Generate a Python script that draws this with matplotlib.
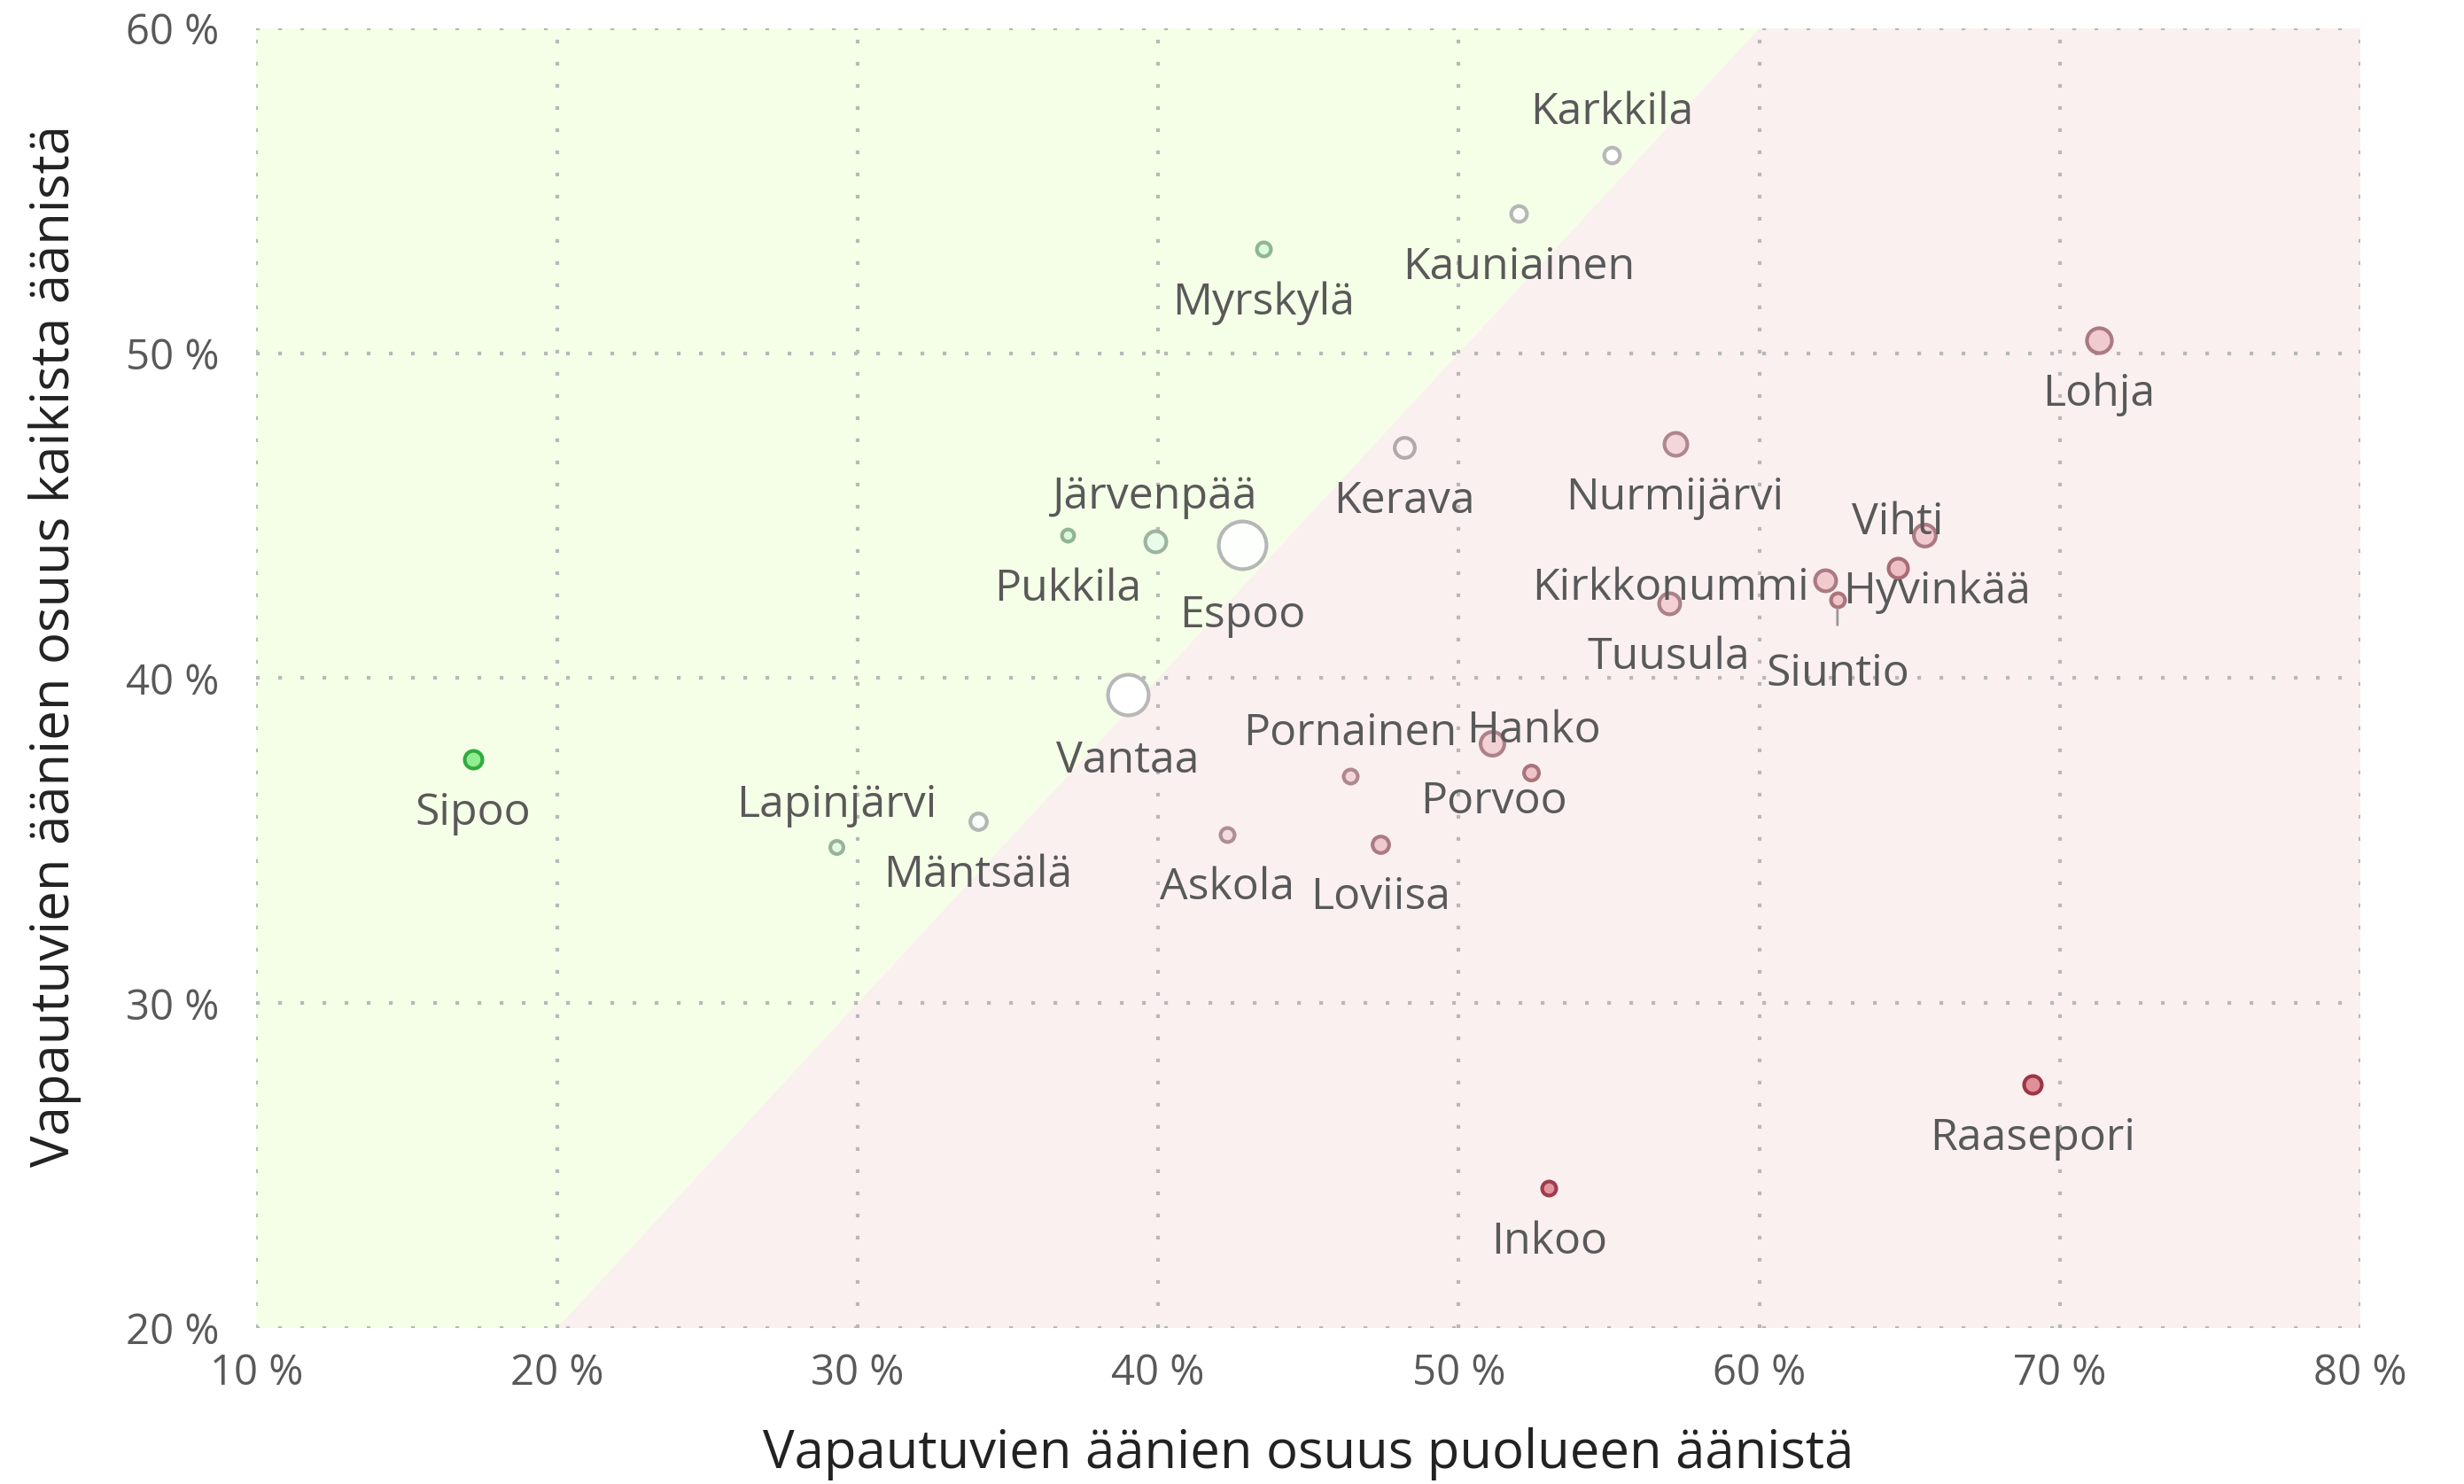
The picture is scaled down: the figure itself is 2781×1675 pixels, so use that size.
import numpy as np
import matplotlib.pyplot as plt
from matplotlib.colors import to_rgb

plt.rcParams['font.family'] = ['Open Sans', 'DejaVu Sans']

kunnat = ['Karkkila', 'Kauniainen', 'Myrskylä', 'Lohja', 'Kerava', 'Nurmijärvi',
          'Järvenpää', 'Pukkila', 'Espoo', 'Vihti', 'Hyvinkää', 'Kirkkonummi',
          'Siuntio', 'Tuusula', 'Vantaa', 'Hanko', 'Pornainen', 'Porvoo', 'Sipoo',
          'Mäntsälä', 'Lapinjärvi', 'Askola', 'Loviisa', 'Raasepori', 'Inkoo']
# vapautuvien äänien osuus puolueen äänistä (%)
osuus_puolue = [55.1, 52.0, 43.5, 71.3, 48.2, 57.2,
                39.9, 37.0, 42.8, 65.5, 64.6, 62.2,
                62.6, 57.0, 39.0, 51.1, 46.4, 52.4, 17.2,
                34.0, 29.3, 42.3, 47.4, 69.1, 53.0]
# vapautuvien äänien osuus kaikista äänistä (%)
osuus_kaikki = [56.1, 54.3, 53.2, 50.4, 47.1, 47.2,
                44.2, 44.4, 44.1, 44.4, 43.4, 43.0,
                42.4, 42.3, 39.5, 38.0, 37.0, 37.1, 37.5,
                35.6, 34.8, 35.2, 34.9, 27.5, 24.3]
# suhteellinen äänimäärä (pallon pinta-ala)
paino = [1.2, 1.2, 1.0, 2.6, 1.8, 2.25,
         1.95, 0.8, 8.4, 2.1, 1.7, 1.95,
         1.0, 1.95, 6.25, 2.4, 1.0, 1.1, 1.45,
         1.3, 0.9, 1.0, 1.3, 1.45, 1.0]
# väriarvo: + vihreä, - punainen
vari = [0.0, 0.03, 0.3, -0.45, -0.12, -0.35,
        0.2, 0.3, 0.02, -0.45, -0.55, -0.45,
        -0.5, -0.4, 0.0, -0.4, -0.35, -0.5, 1.0,
        0.05, 0.25, -0.3, -0.45, -0.95, -0.9]

# label offsets (points)
siirto = {
    'Karkkila': (0, 17), 'Järvenpää': (0, 18), 'Pornainen': (0, 17),
    'Lapinjärvi': (0, 17), 'Espoo': (0, -29), 'Vantaa': (0, -27),
    'Vihti': (-11, 5), 'Hyvinkää': (16, -10), 'Kirkkonummi': (-63, -3),
    'Siuntio': (0, -30), 'Hanko': (17, 5), 'Porvoo': (-15, -12),
}
oletus = (0, -22)


def sekoita(c1, c2, t):
    a = np.array(to_rgb(c1))
    b = np.array(to_rgb(c2))
    return tuple(a + (b - a) * t)


def varit(v):
    if v >= 0:
        return sekoita('#ffffff', '#90ee90', v), sekoita('#b8b8b8', '#33aa3f', v)
    v = -v
    return sekoita('#ffffff', '#de8a94', v), sekoita('#b8b8b8', '#9b2f40', v)


fig = plt.figure(figsize=(13.905, 8.375), dpi=200)
ax = fig.add_axes([0.104, 0.105, 0.854, 0.876])

xs = np.array([10, 80])
ax.fill_between(xs, xs, 60, color='#f5ffe7', zorder=0, lw=0)
ax.fill_between(xs, 20, xs, color='#fbf0f0', zorder=0, lw=0)

lw = 1.5
for i in np.argsort(paino)[::-1]:
    d_px = 20 * np.sqrt(paino[i])
    d_pt = d_px / 2.778 - lw
    fc, ec = varit(vari[i])
    ax.scatter(osuus_puolue[i], osuus_kaikki[i], s=d_pt ** 2, facecolor=fc,
               edgecolor=ec, linewidth=lw, zorder=3)

for i, nimi in enumerate(kunnat):
    dx, dy = siirto.get(nimi, oletus)
    kw = {}
    if nimi == 'Siuntio':
        kw['arrowprops'] = dict(arrowstyle='-', color='#999999', lw=1.0,
                                shrinkA=9, shrinkB=4)
    ax.annotate(nimi, (osuus_puolue[i], osuus_kaikki[i]), xytext=(dx, dy),
                textcoords='offset points', ha='center', va='center',
                fontsize=18, color='#595959', zorder=4, **kw)

ax.set_xlim(10, 80)
ax.set_ylim(20, 60)
ax.set_xticks(np.arange(10, 81, 10))
ax.set_yticks(np.arange(20, 61, 10))
ax.set_xticklabels([f'{t} %' for t in range(10, 81, 10)])
ax.set_yticklabels([f'{t} %' for t in range(20, 61, 10)])
ax.tick_params(length=0, labelsize=17, labelcolor='#595959')
ax.tick_params(axis='x', pad=10)
ax.tick_params(axis='y', pad=15)
ax.grid(True, color='#b8b8b8', linestyle=(0, (1, 5)), linewidth=1.5, zorder=1)
ax.set_axisbelow(True)
for s in ax.spines.values():
    s.set_visible(False)

ax.set_xlabel('Vapautuvien äänien osuus puolueen äänistä', fontsize=21.5,
              color='#222222', labelpad=13)
ax.set_ylabel('Vapautuvien äänien osuus kaikista äänistä', fontsize=21.5,
              color='#222222')
ax.yaxis.set_label_coords(-0.083, 0.525)

fig.savefig('out.png', dpi=200)
